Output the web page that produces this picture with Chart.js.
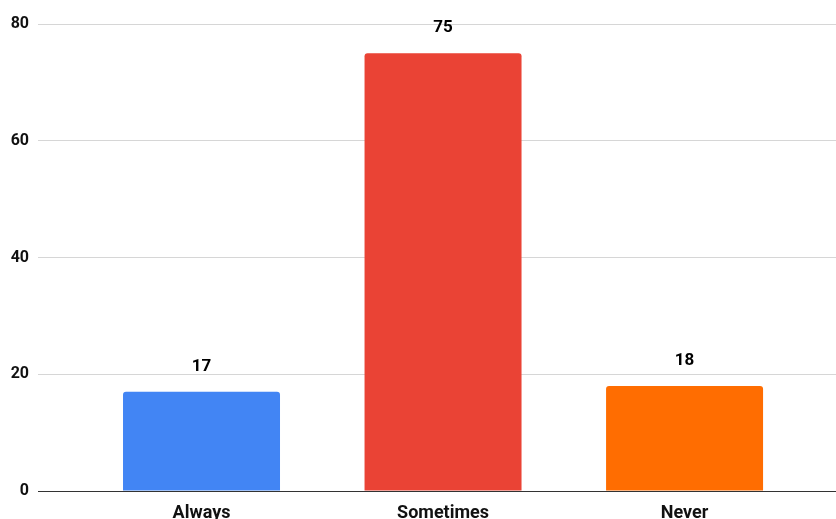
<!DOCTYPE html>
<html>
<head>
<meta charset="utf-8">
<script src="https://cdn.jsdelivr.net/npm/chart.js@4"></script>
<style>
  html, body { margin: 0; padding: 0; background: #fff; }
  #wrap { width: 836px; height: 519px; position: relative; }
</style>
</head>
<body>
<div id="wrap"><canvas id="chart"></canvas></div>
<script>
const categories = ["Always", "Sometimes", "Never"];
const values = [17, 75, 18];
const barColors = ["#4285F4", "#EA4335", "#FF6D01"];
const yTicks = [0, 20, 40, 60, 80];

const FONT = "Roboto, 'Liberation Sans', Arial, sans-serif";

// value labels above each bar
const valueLabels = {
    id: "valueLabels",
    afterDatasetsDraw(chart) {
        const ctx = chart.ctx;
        const meta = chart.getDatasetMeta(0);
        ctx.save();
        ctx.font = "bold 17px " + FONT;
        ctx.fillStyle = "#000";
        ctx.textAlign = "center";
        ctx.textBaseline = "alphabetic";
        meta.data.forEach((bar, i) => {
            ctx.fillText(String(values[i]), bar.x, bar.y - 21);
        });
        ctx.restore();
    }
};

new Chart(document.getElementById("chart"), {
    type: "bar",
    data: {
        datasets: [{
            data: categories.map((c, i) => ({ x: i, y: values[i] })),
            backgroundColor: barColors,
            borderRadius: { topLeft: 3, topRight: 3 },
            borderSkipped: "bottom",
            barPercentage: 0.65,
            categoryPercentage: 1,
        }],
    },
    options: {
        responsive: true,
        maintainAspectRatio: false,
        animation: false,
        layout: { padding: { top: 24, right: 0, left: 0, bottom: 0 } },
        plugins: { legend: { display: false }, tooltip: { enabled: false } },
        scales: {
            x: {
                type: "linear",
                offset: false,
                min: -0.677,
                max: 2.627,
                grid: { display: false, offset: false },
                border: { display: false },
                afterBuildTicks: (axis) => { axis.ticks = categories.map((c, i) => ({ value: i })); },
                afterFit: (axis) => { axis.height = 28; },
                ticks: {
                    padding: 4,
                    color: "#111",
                    font: { family: FONT, size: 18, weight: "bold" },
                    callback: (v) => categories[v],
                },
            },
            y: {
                min: 0,
                max: 80,
                afterBuildTicks: (axis) => { axis.ticks = yTicks.map(v => ({ value: v })); },
                afterFit: (axis) => { axis.width = 38; },
                border: { display: false },
                grid: {
                    drawTicks: false,
                    color: (c) => c.tick && c.tick.value === 0 ? "#333333" : "#d6d6d6",
                    lineWidth: 1,
                },
                ticks: {
                    padding: 9,
                    color: "#111",
                    font: { family: FONT, size: 16, weight: "bold" },
                },
            },
        },
    },
    plugins: [valueLabels],
});
</script>
</body>
</html>
